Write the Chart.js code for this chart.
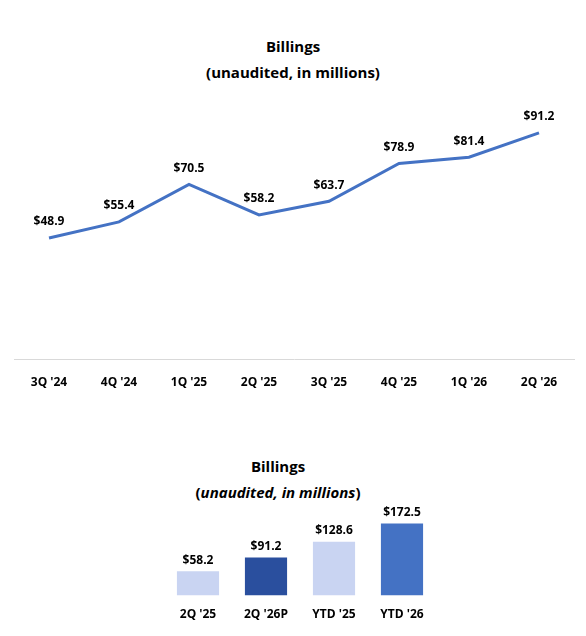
<!DOCTYPE html>
<html><head><meta charset="utf-8">
<script src="https://cdn.jsdelivr.net/npm/chart.js@4.4.0/dist/chart.umd.min.js"></script>
<style>
body{margin:0;width:586px;height:636px;background:#fff;position:relative;font-family:"Open Sans","Liberation Sans",sans-serif;overflow:hidden}
.t{position:absolute;left:0;width:586px;text-align:center;font-weight:bold;font-size:15px;color:#000;line-height:26px}
#c1w{position:absolute;left:0;top:98px;width:586px;height:310px}
#c2w{position:absolute;left:0;top:500px;width:586px;height:136px}
</style></head><body>
<div class="t" style="top:33px">Billings<br>(unaudited, in millions)</div>
<div class="t" style="top:453px;width:556px">Billings<br>(<i>unaudited, in millions</i>)</div>
<div id="c1w"><canvas id="c1"></canvas></div>
<div id="c2w"><canvas id="c2"></canvas></div>
<script>
const lineCategories=["3Q '24","4Q '24","1Q '25","2Q '25","3Q '25","4Q '25","1Q '26","2Q '26"];
const lineValues=[48.9,55.4,70.5,58.2,63.7,78.9,81.4,91.2];
const barCategories=["2Q '25","2Q '26P","YTD '25","YTD '26"];
const barValues=[58.2,91.2,128.6,172.5];
const FONT='"Open Sans","Liberation Sans",sans-serif';
const labelPlugin={id:'lbl',afterDatasetsDraw(ch){const c=ch.ctx;const m=ch.getDatasetMeta(0);c.save();c.font='bold 12px '+FONT;c.fillStyle='#000';c.textAlign='center';c.textBaseline='bottom';
m.data.forEach((p,i)=>{c.fillText('$'+ch.data.datasets[0].data[i].toFixed(1),p.x,p.y-(ch.config.type==='line'?10:5));});c.restore();}};
new Chart(document.getElementById('c1'),{type:'line',data:{labels:lineCategories,datasets:[{data:lineValues,borderColor:'#4472c4',borderWidth:3,pointRadius:0,tension:0}]},
options:{responsive:true,maintainAspectRatio:false,animation:false,layout:{padding:{top:8,left:14,right:12,bottom:10}},
plugins:{legend:{display:false},tooltip:{enabled:false}},
scales:{x:{offset:true,grid:{display:false},border:{color:'#d9d9d9'},ticks:{color:'#000',font:{family:FONT,weight:'bold',size:12},padding:8}},
y:{display:false,min:0,max:102}}},plugins:[labelPlugin]});
new Chart(document.getElementById('c2'),{type:'bar',data:{labels:barCategories,datasets:[{data:barValues,
backgroundColor:(ctx)=>{const ch=ctx.chart;const i=ctx.dataIndex;const el=ch.getDatasetMeta(0).data[i];
if(i===3)return '#4472c4';
const fb=i===1?'#2a4f9e':'#c9d4f2';
if(!el||!ch.chartArea||!isFinite(el.x)||!isFinite(el.y))return fb;
const g=ch.ctx.createLinearGradient(el.x-21,ch.chartArea.bottom,el.x+21,el.y);
if(i===1){g.addColorStop(0,'#3a66c0');g.addColorStop(1,'#1c3470');}
else{g.addColorStop(0,'#eef1fb');g.addColorStop(1,'#9fb3e6');}
return g;},barPercentage:0.62,categoryPercentage:1}]},
options:{responsive:true,maintainAspectRatio:false,animation:false,layout:{padding:{top:12,left:164,right:150,bottom:10}},
plugins:{legend:{display:false},tooltip:{enabled:false}},
scales:{x:{grid:{display:false},border:{display:false},ticks:{color:'#000',font:{family:FONT,weight:'bold',size:12},padding:4}},
y:{display:false,min:0,max:200}}},plugins:[labelPlugin]});
</script></body></html>
